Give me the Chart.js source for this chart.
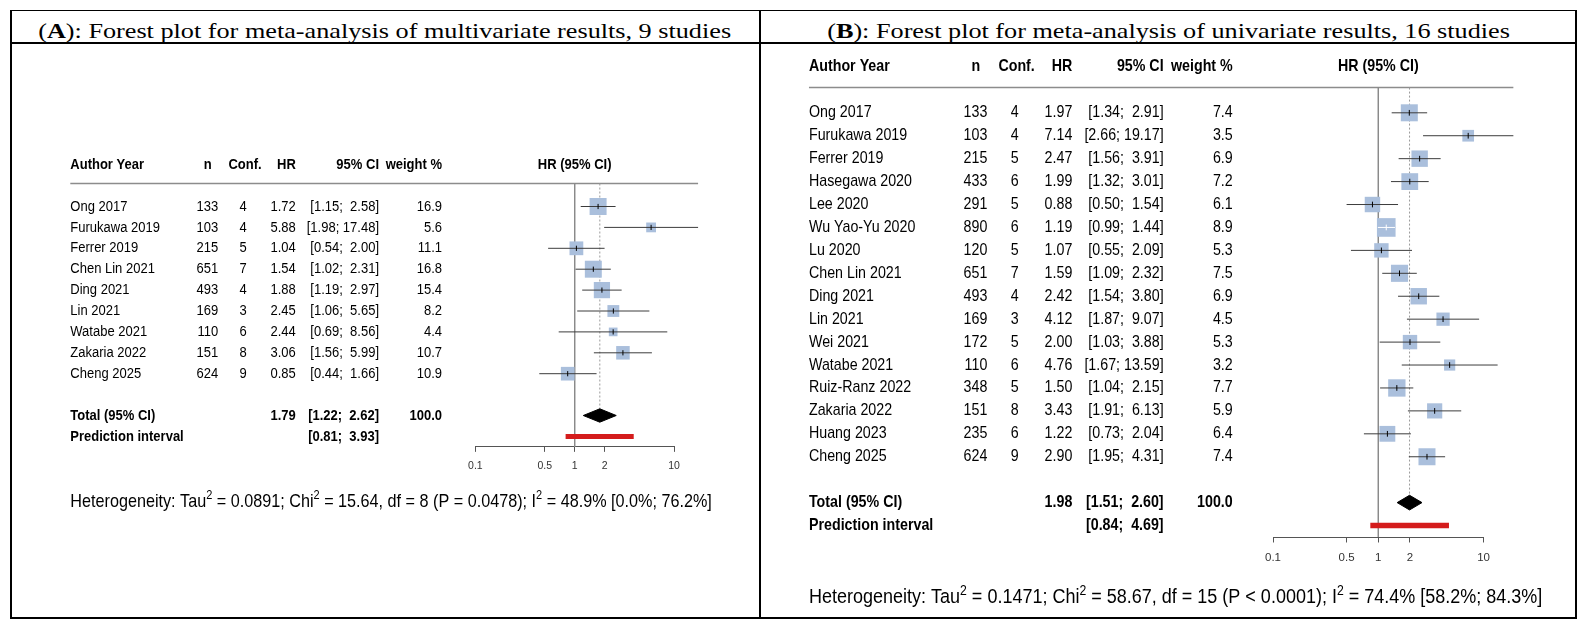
<!DOCTYPE html>
<html>
<head>
<meta charset="utf-8">
<title>Forest plots</title>
<script src="https://cdn.jsdelivr.net/npm/chart.js@4.4.1/dist/chart.umd.min.js"></script>
<style>
  html, body { margin: 0; padding: 0; background: #fff; }
  body { width: 1589px; height: 628px; position: relative; overflow: hidden; }
  .frame { position: absolute; left: 10px; top: 10px; width: 1567px; height: 609px; box-sizing: border-box;
           border: 2.5px solid #000; border-top-width: 1.5px; }
  .divider { position: absolute; left: 759px; top: 10px; width: 2px; height: 609px; background: #000; }
  .underline { position: absolute; left: 10px; top: 42px; width: 1567px; height: 1.5px; background: #000; }
  .title { position: absolute; top: 15px; line-height: 32px; text-align: center; white-space: nowrap;
           font-family: "Liberation Serif", "Times New Roman", serif; font-size: 21px; color: #000; }
  .title span { display: inline-block; transform-origin: center center; }
  canvas { position: absolute; }
</style>
</head>
<body>
<div class="frame"></div>
<div class="divider"></div>
<div class="underline"></div>
<div class="title" id="titleA" style="left:11px; width:748px;"><span>(<b>A</b>): Forest plot for meta-analysis of multivariate results, 9 studies</span></div>
<div class="title" id="titleB" style="left:761px; width:816px;"><span>(<b>B</b>): Forest plot for meta-analysis of univariate results, 16 studies</span></div>
<canvas id="chartA" width="746" height="572"></canvas>
<canvas id="chartB" width="813" height="572"></canvas>

<script>
const ticksX = [0.1, 0.5, 1, 2, 10];

// Panel A: multivariate results
const studiesA = ["Ong 2017", "Furukawa 2019", "Ferrer 2019", "Chen Lin 2021", "Ding 2021",
                  "Lin 2021", "Watabe 2021", "Zakaria 2022", "Cheng 2025"];
const nA = [133, 103, 215, 651, 493, 169, 110, 151, 624];
const confA = [4, 4, 5, 7, 4, 3, 6, 8, 9];
const hrA = [1.72, 5.88, 1.04, 1.54, 1.88, 2.45, 2.44, 3.06, 0.85];
const loA = [1.15, 1.98, 0.54, 1.02, 1.19, 1.06, 0.69, 1.56, 0.44];
const hiA = [2.58, 17.48, 2.00, 2.31, 2.97, 5.65, 8.56, 5.99, 1.66];
const weightA = [16.9, 5.6, 11.1, 16.8, 15.4, 8.2, 4.4, 10.7, 10.9];
const pooledA = [1.79, 1.22, 2.62];
const predA = [0.81, 3.93];
const hetA = ["0.0891", "15.64", "8", "P = 0.0478", "48.9%", "0.0%", "76.2%"];

// Panel B: univariate results
const studiesB = ["Ong 2017", "Furukawa 2019", "Ferrer 2019", "Hasegawa 2020", "Lee 2020",
                  "Wu Yao-Yu 2020", "Lu 2020", "Chen Lin 2021", "Ding 2021", "Lin 2021",
                  "Wei 2021", "Watabe 2021", "Ruiz-Ranz 2022", "Zakaria 2022", "Huang 2023", "Cheng 2025"];
const nB = [133, 103, 215, 433, 291, 890, 120, 651, 493, 169, 172, 110, 348, 151, 235, 624];
const confB = [4, 4, 5, 6, 5, 6, 5, 7, 4, 3, 5, 6, 5, 8, 6, 9];
const hrB = [1.97, 7.14, 2.47, 1.99, 0.88, 1.19, 1.07, 1.59, 2.42, 4.12, 2.00, 4.76, 1.50, 3.43, 1.22, 2.90];
const loB = [1.34, 2.66, 1.56, 1.32, 0.50, 0.99, 0.55, 1.09, 1.54, 1.87, 1.03, 1.67, 1.04, 1.91, 0.73, 1.95];
const hiB = [2.91, 19.17, 3.91, 3.01, 1.54, 1.44, 2.09, 2.32, 3.80, 9.07, 3.88, 13.59, 2.15, 6.13, 2.04, 4.31];
const weightB = [7.4, 3.5, 6.9, 7.2, 6.1, 8.9, 5.3, 7.5, 6.9, 4.5, 5.3, 3.2, 7.7, 5.9, 6.4, 7.4];
const pooledB = [1.98, 1.51, 2.60];
const predB = [0.84, 4.69];
const hetB = ["0.1471", "58.67", "15", "P < 0.0001", "74.4%", "58.2%", "84.3%"];

const FAMILY = '"Liberation Sans", Arial, sans-serif';
const VSTRETCH = 1.15; // text in the source figure is a little taller than wide
const font = (size, bold) => (bold ? "bold " : "") + size + "px " + FAMILY;

function ciText(lo, hi) {
  return "[" + lo.toFixed(2) + "; " + hi.toFixed(2).padStart(5, " ") + "]";
}

function fitTitle(id, target) {
  const span = document.querySelector("#" + id + " span");
  const w = span.getBoundingClientRect().width;
  span.style.transform = "scaleX(" + (target / w).toFixed(3) + ")";
}

// column offsets from the x = 1 pixel, for scale factor 1
const COL = { author: -504.4, n: -356.4, conf: -331.5, hr: -278.9, ci: -195.7, wt: -132.7, nHead: -363, confHead: -329.7 };

function tablePlugin(p) {
  return {
    id: "forestTable",
    beforeDatasetsDraw(chart) {
      const ctx = chart.ctx, xs = chart.scales.x, ys = chart.scales.y;
      const x1 = xs.getPixelForValue(1);
      const y = ys.getPixelForValue(-1.1);
      ctx.save();
      ctx.strokeStyle = "#8c8c8c";
      ctx.lineWidth = 1.5;
      ctx.beginPath();
      ctx.moveTo(x1 + COL.author * p.s - p.authorShift, y);
      ctx.lineTo(xs.getPixelForValue(Math.max(...p.hi)), y);
      ctx.stroke();
      ctx.restore();
    },
    afterDraw(chart) {
      const ctx = chart.ctx, xs = chart.scales.x, ys = chart.scales.y;
      const s = p.s, k = p.studies.length;
      const x1 = xs.getPixelForValue(1);
      const cx = key => x1 + COL[key] * s - (key === "author" ? p.authorShift : 0);
      const fs = 13 * s;
      ctx.save();
      ctx.fillStyle = "#000";
      ctx.textBaseline = "middle";
      const put = (txt, x, row, align, bold) => {
        ctx.save();
        ctx.font = font(fs, bold);
        ctx.textAlign = align;
        ctx.translate(x, ys.getPixelForValue(row));
        ctx.scale(1, VSTRETCH);
        ctx.fillText(txt, 0, 0);
        ctx.restore();
      };
      // header
      put("Author Year", cx("author"), -2, "left", true);
      put("n", cx("nHead"), -2, "right", true);
      put("Conf.", cx("confHead"), -2, "center", true);
      put("HR", cx("hr"), -2, "right", true);
      put("95% CI", cx("ci"), -2, "right", true);
      put("weight %", cx("wt"), -2, "right", true);
      put("HR (95% CI)", x1, -2, "center", true);
      // studies
      p.studies.forEach((name, i) => {
        put(name, cx("author"), i, "left", false);
        put(String(p.n[i]), cx("n"), i, "right", false);
        put(String(p.conf[i]), cx("conf"), i, "center", false);
        put(p.hr[i].toFixed(2), cx("hr"), i, "right", false);
        put(ciText(p.lo[i], p.hi[i]), cx("ci"), i, "right", false);
        put(p.weight[i].toFixed(1), cx("wt"), i, "right", false);
      });
      // pooled rows
      put("Total (95% CI)", cx("author"), k + 1, "left", true);
      put(p.pooled[0].toFixed(2), cx("hr"), k + 1, "right", true);
      put(ciText(p.pooled[1], p.pooled[2]), cx("ci"), k + 1, "right", true);
      put("100.0", cx("wt"), k + 1, "right", true);
      put("Prediction interval", cx("author"), k + 2, "left", true);
      put(ciText(p.pred[0], p.pred[1]), cx("ci"), k + 2, "right", true);
      // heterogeneity with superscripts
      const h = p.het, hs = p.hetSize;
      const parts = [
        ["Heterogeneity: Tau", false], ["2", true],
        [" = " + h[0] + "; Chi", false], ["2", true],
        [" = " + h[1] + ", df = " + h[2] + " (" + h[3] + "); I", false], ["2", true],
        [" = " + h[4] + " [" + h[5] + "; " + h[6] + "]", false]
      ];
      ctx.textAlign = "left";
      ctx.textBaseline = "alphabetic";
      ctx.translate(cx("author"), ys.getPixelForValue(k + 5.07) + 0.36 * hs * VSTRETCH);
      ctx.scale(1, VSTRETCH);
      let x = 0;
      parts.forEach(([t, sup]) => {
        ctx.font = font(sup ? hs * 0.68 : hs, false);
        ctx.fillText(t, x, sup ? -hs * 0.42 : 0);
        x += ctx.measureText(t).width;
      });
      ctx.restore();
    }
  };
}

function forestChart(p) {
  const canvas = document.getElementById(p.canvas);
  canvas.style.left = p.left + "px";
  canvas.style.top = p.top + "px";
  const k = p.studies.length, s = p.s;
  const yMin = -1.1, yMax = k + 2.5;
  const axisH = 30 * s;
  const wmax = Math.max(...p.weight);
  const side = p.weight.map(w => 17 * s * Math.sqrt(w / wmax));
  const inside = p.lo.map((lo, i) => Math.log10(p.hi[i] / lo) * p.dec < side[i]);
  const dh = 0.32;
  const [est, plo, phi] = p.pooled;

  const seg = (pts, color, width, extra) => Object.assign({
    data: pts, showLine: true, borderColor: color, borderWidth: width,
    pointRadius: 0, clip: false, fill: false
  }, extra || {});

  const ds = [];
  ds.push(seg([{ x: 1, y: yMin }, { x: 1, y: yMax }], "#8a8a8a", 1));
  ds.push(seg([{ x: est, y: yMin }, { x: est, y: k + 1 - dh }], "#9a9a9a", 1, { borderDash: [2, 2] }));
  ds.push({
    data: p.hr.map((v, i) => ({ x: v, y: i })),
    pointStyle: "rect", pointRadius: side.map(v => v / Math.SQRT2),
    pointBackgroundColor: "#aabfdc", pointBorderWidth: 0, clip: false
  });
  p.hr.forEach((v, i) => {
    ds.push(seg([{ x: p.lo[i], y: i }, { x: p.hi[i], y: i }], inside[i] ? "#ffffff" : "#3c3c3c", 1));
  });
  ds.push({
    data: p.hr.map((v, i) => ({ x: v, y: i })),
    pointStyle: "line", pointRotation: 90, pointRadius: 2.6 * s,
    pointBackgroundColor: "rgba(0,0,0,0)",
    pointBorderColor: inside.map(f => f ? "#ffffff" : "#000000"), pointBorderWidth: 1, clip: false
  });
  ds.push(seg([{ x: plo, y: k + 1 }, { x: est, y: k + 1 - dh }, { x: phi, y: k + 1 },
               { x: est, y: k + 1 + dh }, { x: plo, y: k + 1 }], "#000", 1,
              { fill: "shape", backgroundColor: "#000" }));
  ds.push(seg([{ x: p.pred[0], y: k + 2 }, { x: p.pred[1], y: k + 2 }], "#d41c1c", 5 * s,
              { borderCapStyle: "butt" }));
  ds.forEach((d, i) => { d.order = ds.length - i; });

  const chartBottom = p.row0 + yMax * p.rowH;
  return new Chart(canvas, {
    type: "scatter",
    data: { datasets: ds },
    options: {
      responsive: false,
      animation: false,
      layout: {
        padding: {
          left: p.x1 - p.dec - p.left,
          right: p.left + canvas.width - (p.x1 + p.dec),
          top: p.row0 + yMin * p.rowH - p.top,
          bottom: p.top + canvas.height - chartBottom - axisH
        }
      },
      plugins: { legend: { display: false }, tooltip: { enabled: false } },
      scales: {
        x: {
          type: "logarithmic", min: 0.1, max: 10, position: "bottom",
          afterBuildTicks: sc => { sc.ticks = ticksX.map(v => ({ value: v })); },
          afterFit: sc => { sc.height = axisH; },
          grid: { drawOnChartArea: false, drawTicks: true, tickLength: 5 * s, color: "#555" },
          border: { display: true, color: "#555", width: 1 },
          ticks: {
            autoSkip: false, maxRotation: 0, minRotation: 0, padding: 8 * s,
            color: "#333", font: { family: FAMILY, size: 10.5 * s },
            callback: v => String(v)
          }
        },
        y: { type: "linear", reverse: true, min: yMin, max: yMax, display: false }
      }
    },
    plugins: [tablePlugin(p)]
  });
}

fitTitle("titleA", 693);
fitTitle("titleB", 683);

forestChart({
  canvas: "chartA", left: 13, top: 44, s: 1, row0: 206.5, rowH: 20.9, x1: 574.7, dec: 99.3,
  authorShift: 0, hetSize: 16.2,
  studies: studiesA, n: nA, conf: confA, hr: hrA, lo: loA, hi: hiA, weight: weightA,
  pooled: pooledA, pred: predA, het: hetA
});
forestChart({
  canvas: "chartB", left: 762, top: 44, s: 1.097, row0: 112.8, rowH: 22.93, x1: 1378.3, dec: 105.3,
  authorShift: 16, hetSize: 18.0,
  studies: studiesB, n: nB, conf: confB, hr: hrB, lo: loB, hi: hiB, weight: weightB,
  pooled: pooledB, pred: predB, het: hetB
});
</script>
</body>
</html>
